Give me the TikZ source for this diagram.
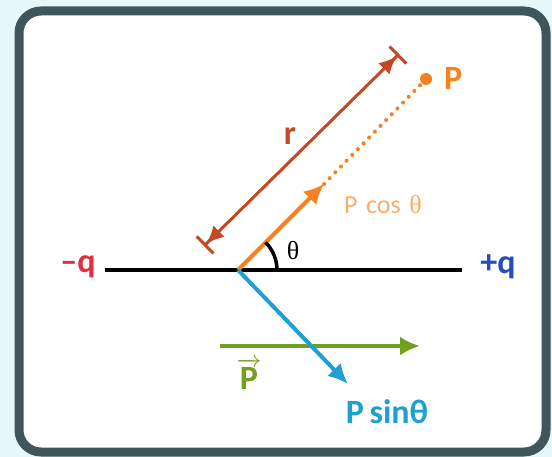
\documentclass[tikz,border=0pt]{standalone}
\usepackage{amsmath}
\usepackage{fontspec}
\setmainfont{Carlito}
\newfontfamily\thetafont{Liberation Serif}
\usetikzlibrary{arrows.meta,positioning,calc}
\definecolor{framegray}{RGB}{62,86,92}
\definecolor{paleback}{RGB}{230,247,250}
\definecolor{negred}{RGB}{222,48,64}
\definecolor{posblue}{RGB}{40,76,190}
\definecolor{dipoleorange}{RGB}{245,130,30}
\definecolor{rbrown}{RGB}{196,72,36}
\definecolor{sinblue}{RGB}{30,160,210}
\definecolor{vecgreen}{RGB}{112,160,32}

\begin{document}
\begin{tikzpicture}[x=1pt, y=-1pt,
  vecarrow/.style={-{Latex[length=20pt,width=19pt]}, line width=4pt},
  lbl/.style={inner sep=0pt, font=\fontsize{34}{34}\selectfont\bfseries},
  thinlbl/.style={inner sep=0pt, font=\fontsize{26}{26}\selectfont}
]
\useasboundingbox (0,0) rectangle (552,457);
\fill[paleback] (0,0) rectangle (552,457);
\draw[framegray, line width=9pt, fill=white, rounded corners=22pt] (19,11) rectangle (546,452);

% charges and axis
\node[lbl, text=negred] (mq) at (78,267) {–q};
\node[lbl, text=posblue] (pq) at (498,267) {+q};
\coordinate (O) at (238,270);
\coordinate (axisl) at (105,270);
\coordinate (axisr) at (462,270);
\draw[line width=4pt] (axisl) -- (axisr);

% dipole direction and point P
\node[circle, fill=dipoleorange, inner sep=0pt, minimum size=12pt] (Pdot) at (426,79) {};
\node[lbl, text=dipoleorange, anchor=west] (Plabel) at (444,78) {P};
\coordinate (costip) at (324,184);
\draw[dipoleorange, line width=4pt, line cap=round, dash pattern=on 0.1pt off 8pt] (costip) -- (Pdot);
\draw[vecarrow, dipoleorange] (O) -- (costip);
\node[thinlbl, text=dipoleorange!65] (coslabel) at (383,205) {P\,\,cos\,\,{\thetafont θ}};

% distance r
\coordinate (rlow) at (204,246);
\coordinate (rhigh) at (399,54);
\draw[rbrown, line width=3pt, {Bar[width=24pt]Latex[length=18pt,width=16pt]}-{Latex[length=18pt,width=16pt]Bar[width=24pt]}] (rlow) -- (rhigh);
\node[lbl, text=rbrown] (rlabel) at (290,136) {r};

% angle
\draw[line width=3.5pt] ($(O)+(39,0)$) arc[start angle=0, end angle=-45, radius=39];
\node[thinlbl] (thlabel) at (293,251) {\thetafont θ};

% dipole moment and sine component
\coordinate (gstart) at (220,346);
\coordinate (gend) at (420,346);
\draw[vecarrow, vecgreen] (gstart) -- (gend);
\node[lbl, text=vecgreen] (pvec) at (249,374) {$\overrightarrow{\textbf{P}}$};
\coordinate (sintip) at (348,384);
\draw[vecarrow, sinblue] (O) -- (sintip);
\node[lbl, text=sinblue] (sinlabel) at (387,412) {P\,sinθ};
\end{tikzpicture}
\end{document}
